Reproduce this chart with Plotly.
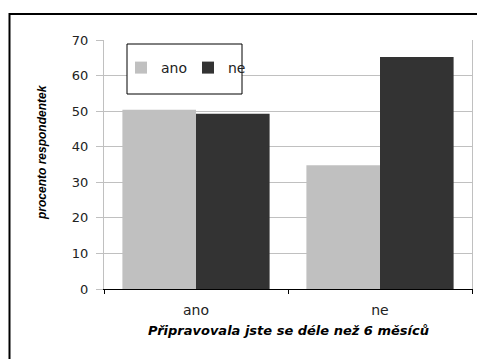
import plotly.graph_objects as go

# Survey answers: "Did you prepare for longer than 6 months?"
categories = ["ano", "ne"]
series_names = ["ano", "ne"]
values_ano = [50.4, 34.8]
values_ne = [49.3, 65.2]
y_ticks = [0, 10, 20, 30, 40, 50, 60, 70]

FONT = "DejaVu Sans, Arial, sans-serif"
FONT_ARIAL = "Arial, Liberation Sans, sans-serif"
W, H = 477, 359
L, R, T, B = 104, 5, 40, 70

fig = go.Figure()
fig.add_trace(go.Bar(name=series_names[0], x=categories, y=values_ano,
                     marker=dict(color="#c0c0c0", line=dict(width=0))))
fig.add_trace(go.Bar(name=series_names[1], x=categories, y=values_ne,
                     marker=dict(color="#333333", line=dict(width=0))))


def px_x(p):
    return (p - L) / (W - L - R)


def px_y(p):
    return (H - B - p) / (H - T - B)


fig.update_layout(
    width=W, height=H,
    margin=dict(l=L, r=R, t=T, b=B, pad=0),
    paper_bgcolor="white", plot_bgcolor="white",
    barmode="group", bargap=0.2, bargroupgap=0,
    font=dict(family=FONT, size=13, color="#222222"),
    showlegend=True,
    legend=dict(
        orientation="h",
        x=px_x(121), xanchor="left",
        y=px_y(68), yanchor="middle",
        bgcolor="rgba(0,0,0,0)", borderwidth=0,
        font=dict(family=FONT, size=14, color="#222222"),
        itemwidth=30,
        entrywidth=22,
        entrywidthmode="pixels",
        traceorder="normal",
    ),
    xaxis=dict(
        showline=True, linecolor="#000000", linewidth=1,
        ticks="outside", tickson="boundaries", ticklen=4,
        tickcolor="#000000", showgrid=False,
        ticklabelstandoff=8,
        tickfont=dict(family=FONT, size=14, color="#222222"),
    ),
    yaxis=dict(
        range=[0, 70], tickvals=y_ticks,
        showline=True, linecolor="#c0c0c0", linewidth=1, mirror=True,
        ticks="outside", ticklen=7, tickcolor="#c0c0c0",
        showgrid=True, gridcolor="#c0c0c0", gridwidth=1,
        zeroline=False,
        ticklabelstandoff=5,
        tickfont=dict(family=FONT, size=13, color="#222222"),
    ),
)

# Axis titles
fig.add_annotation(
    text="Připravovala jste se déle než 6 měsíců",
    xref="paper", yref="paper", x=0.5, y=px_y(330),
    xanchor="center", yanchor="middle", showarrow=False,
    font=dict(family=FONT, size=13, color="#000000", weight="bold", style="italic"),
)
fig.add_annotation(
    text="procento respondentek",
    xref="paper", yref="paper", x=px_x(42), y=px_y(152),
    xanchor="center", yanchor="middle", textangle=-90, showarrow=False,
    font=dict(family=FONT_ARIAL, size=12, color="#000000", weight="bold", style="italic"),
)

# Legend frame
fig.add_shape(type="rect", xref="paper", yref="paper",
              x0=px_x(127), x1=px_x(242), y0=px_y(94), y1=px_y(44),
              line=dict(color="#000000", width=1), fillcolor="white", layer="above")
# Outer chart frame
fig.add_shape(type="rect", xref="paper", yref="paper",
              x0=px_x(9.5), x1=px_x(490), y0=px_y(370), y1=px_y(14),
              line=dict(color="#000000", width=2), fillcolor="rgba(0,0,0,0)", layer="above")

fig.write_html("out.html")
